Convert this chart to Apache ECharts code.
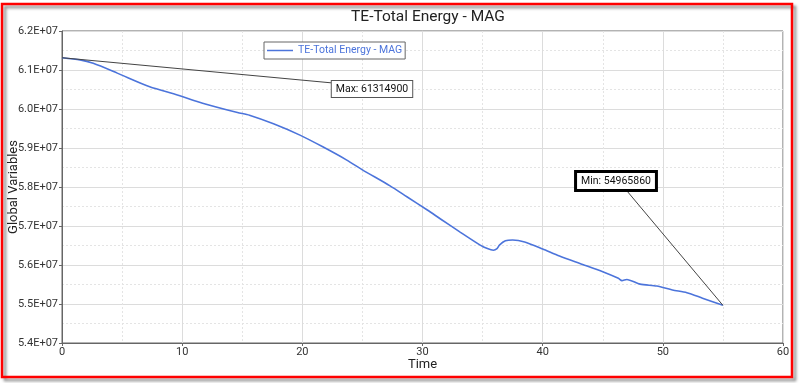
<!DOCTYPE html>
<html>
<head>
<meta charset="utf-8">
<script src="https://cdn.jsdelivr.net/npm/echarts@6/dist/echarts.min.js"></script>
<style>
html,body{margin:0;padding:0;background:#fff;}
#chart{width:800px;height:383px;}
</style>
</head>
<body>
<div id="chart"></div>
<script>
// ---- data ----
const chartTitle = 'TE-Total Energy - MAG';
const seriesName = 'TE-Total Energy - MAG';
const xAxisName = 'Time';
const yAxisName = 'Global Variables';
const times = [0, 1.5, 2.6, 4.6, 7.3, 9.6, 11.7, 14.6, 15.6, 17.6, 19.8, 21.7, 23.7, 25.0, 27.3, 28.7, 30.4, 31.5, 33.1, 34.8, 35.4, 35.9, 36.2, 36.4, 36.9, 37.5, 38.5, 40.0, 41.4, 43.1, 45.0, 46.3, 46.6, 47.0, 48.1, 49.5, 50.8, 52.0, 53.3, 55.0];
const energy = [61314900, 61260000, 61170000, 60920000, 60570000, 60360000, 60150000, 59910000, 59840000, 59620000, 59330000, 59030000, 58690000, 58440000, 58030000, 57750000, 57410000, 57180000, 56850000, 56510000, 56420000, 56380000, 56420000, 56510000, 56620000, 56640000, 56590000, 56410000, 56230000, 56040000, 55830000, 55660000, 55600000, 55630000, 55510000, 55460000, 55360000, 55290000, 55150000, 54965860];
const xTicks = [0, 10, 20, 30, 40, 50, 60];
const yTicks = [54e6, 55e6, 56e6, 57e6, 58e6, 59e6, 60e6, 61e6, 62e6];

// ---- derived ----
const points = times.map((t, i) => [t, energy[i]]);
const maxVal = Math.max(...energy);
const minVal = Math.min(...energy);
const iMax = energy.indexOf(maxVal);
const iMin = energy.indexOf(minVal);

function sci(v) {
  if (v === 0) return '0';
  const e = Math.floor(Math.log10(Math.abs(v)));
  const m = v / Math.pow(10, e);
  return m.toFixed(1) + 'E' + (e >= 0 ? '+' : '-') + String(Math.abs(e)).padStart(2, '0');
}

const FONT = 'Roboto';
const BLUE = '#4c74db';

const chart = echarts.init(document.getElementById('chart'), null, {renderer: 'canvas'});
chart.setOption({
  animation: false,
  backgroundColor: '#fff',
  textStyle: {fontFamily: FONT},
  title: {
    text: chartTitle,
    left: 423, top: 4, textAlign: 'center',
    textStyle: {fontFamily: FONT, fontSize: 15.5, fontWeight: 'normal', color: '#222'}
  },
  legend: {
    data: [seriesName],
    left: 264, top: 42,
    icon: 'rect', itemWidth: 26, itemHeight: 1.5, itemGap: 4,
    borderColor: '#666', borderWidth: 1, padding: [3, 3, 3, 3],
    backgroundColor: '#fff',
    textStyle: {color: BLUE, fontSize: 10.5, fontFamily: FONT}
  },
  grid: {
    left: 62, right: 17, top: 31, bottom: 40,
    containLabel: false, outerBoundsMode: 'none',
    show: true, borderColor: '#666', borderWidth: 1, backgroundColor: 'transparent'
  },
  xAxis: {
    type: 'value', min: xTicks[0], max: xTicks[xTicks.length - 1], interval: xTicks[1] - xTicks[0],
    name: xAxisName, nameLocation: 'middle', nameGap: 15, nameMoveOverlap: false,
    nameTextStyle: {fontSize: 13, color: '#222', fontFamily: FONT},
    axisLine: {show: true, lineStyle: {color: '#666'}},
    axisTick: {show: true, length: 3, lineStyle: {color: '#666'}},
    axisLabel: {fontSize: 11, color: '#333', margin: 4, fontFamily: FONT},
    splitLine: {show: true, lineStyle: {color: '#dcdcdc', width: 1}},
    minorTick: {show: true, splitNumber: 2, length: 0},
    minorSplitLine: {show: true, lineStyle: {color: '#e4e4e4', type: [2, 2]}}
  },
  yAxis: {
    type: 'value', min: yTicks[0], max: yTicks[yTicks.length - 1], interval: yTicks[1] - yTicks[0],
    name: yAxisName, nameLocation: 'middle', nameGap: 42, nameMoveOverlap: false,
    nameTextStyle: {fontSize: 13, color: '#222', fontFamily: FONT},
    axisLine: {show: true, lineStyle: {color: '#666'}},
    axisTick: {show: true, length: 3, lineStyle: {color: '#666'}},
    axisLabel: {fontSize: 11, color: '#333', margin: 4, formatter: sci, fontFamily: FONT},
    splitLine: {show: true, lineStyle: {color: '#dcdcdc', width: 1}},
    minorTick: {show: true, splitNumber: 2, length: 0},
    minorSplitLine: {show: true, lineStyle: {color: '#e4e4e4', type: [2, 2]}}
  },
  graphic: [{
    type: 'rect', silent: true, z: 100,
    shape: {x: 2, y: 4, width: 790, height: 373},
    style: {fill: 'none', stroke: '#ff0000', lineWidth: 2.5,
      shadowColor: 'rgba(0,0,0,0.45)', shadowBlur: 3, shadowOffsetX: 3, shadowOffsetY: 3}
  }],
  series: [{
    name: seriesName,
    type: 'line',
    data: points,
    showSymbol: false,
    smooth: 0.25,
    lineStyle: {color: BLUE, width: 1.6},
    itemStyle: {color: BLUE},
    markLine: {
      silent: true, symbol: ['none', 'none'], animation: false,
      lineStyle: {color: '#444', width: 1, type: 'solid'},
      label: {show: false},
      emphasis: {disabled: true},
      data: [
        [{coord: [times[iMax], maxVal]}, {x: 333, y: 83}],
        [{coord: [times[iMin], minVal]}, {x: 627, y: 191}]
      ]
    },
    markPoint: {
      silent: true, animation: false,
      symbol: 'rect', symbolSize: 1,
      itemStyle: {color: 'rgba(0,0,0,0)'},
      data: [
        {x: 372, y: 89, value: maxVal,
          label: {show: true, position: 'inside', formatter: 'Max: ' + maxVal,
            fontSize: 10.5, color: '#111', fontFamily: FONT, backgroundColor: '#fff',
            borderColor: '#555', borderWidth: 1, padding: [3, 4, 2, 4]}},
        {x: 616, y: 181, value: minVal,
          label: {show: true, position: 'inside', formatter: 'Min: ' + minVal,
            fontSize: 10.5, color: '#111', fontFamily: FONT, backgroundColor: '#fff',
            borderColor: '#000', borderWidth: 3, padding: [3, 4, 2, 4]}}
      ]
    }
  }]
});
</script>
</body>
</html>
